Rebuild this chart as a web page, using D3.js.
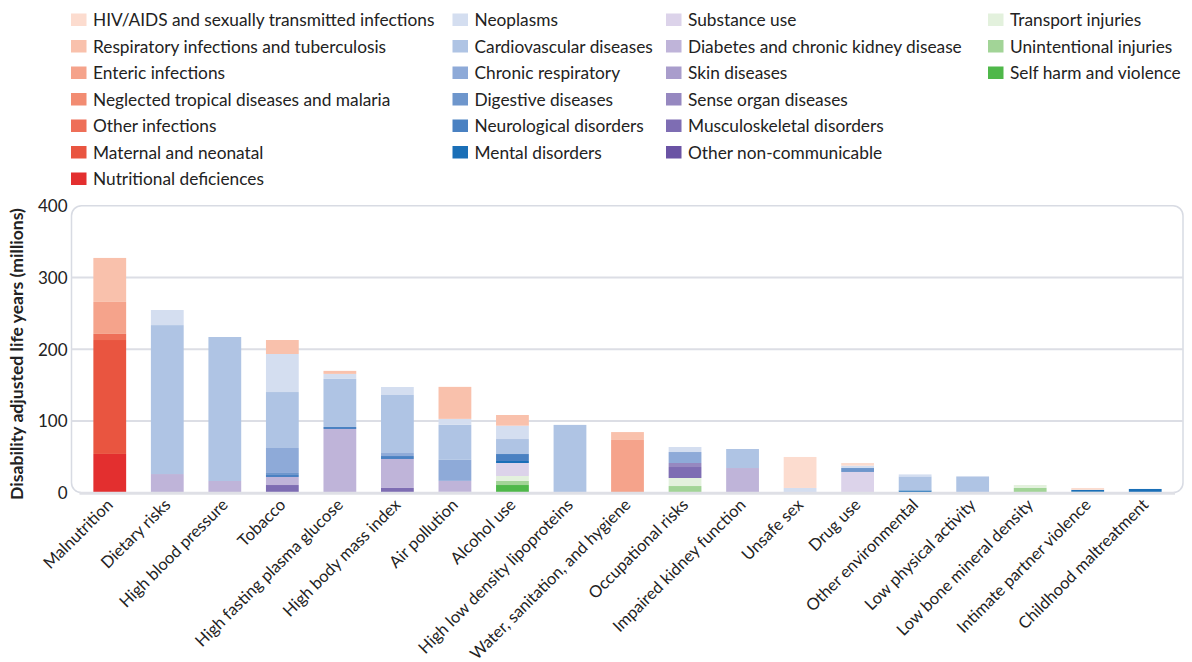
<!DOCTYPE html>
<html>
<head>
<meta charset="utf-8">
<script src="https://cdn.jsdelivr.net/npm/d3@7"></script>
<style>
  html, body { margin: 0; padding: 0; background: #fff; }
  svg text { font-family: Lato, "Open Sans", sans-serif; fill: #222; }
</style>
</head>
<body>
<svg id="chart" width="1192" height="662"></svg>
<script>
// ---------- DATA ----------
const categories = ["Malnutrition", "Dietary risks", "High blood pressure", "Tobacco",
  "High fasting plasma glucose", "High body mass index", "Air pollution", "Alcohol use",
  "High low density lipoproteins", "Water, sanitation, and hygiene", "Occupational risks",
  "Impaired kidney function", "Unsafe sex", "Drug use", "Other environmental",
  "Low physical activity", "Low bone mineral density", "Intimate partner violence",
  "Childhood maltreatment"];

const yTicks = [0, 100, 200, 300, 400];

// legend order (column-major); stacking is the reverse of this order
const seriesNames = [
  "HIV/AIDS and sexually transmitted infections", "Respiratory infections and tuberculosis",
  "Enteric infections", "Neglected tropical diseases and malaria", "Other infections",
  "Maternal and neonatal", "Nutritional deficiences",
  "Neoplasms", "Cardiovascular diseases", "Chronic respiratory", "Digestive diseases",
  "Neurological disorders", "Mental disorders",
  "Substance use", "Diabetes and chronic kidney disease", "Skin diseases",
  "Sense organ diseases", "Musculoskeletal disorders", "Other non-communicable",
  "Transport injuries", "Unintentional injuries", "Self harm and violence"];

const seriesColors = [
  "#fcdccf", "#f9c1ac", "#f5a38b", "#f28c72", "#ee6f58", "#e95540", "#e32f2f",
  "#d4def0", "#afc4e4", "#8eaad8", "#6e96cc", "#4a81c2", "#1a6fb7",
  "#dcd3ea", "#bfb4d9", "#a99dcc", "#9688c0", "#7e6db3", "#6a53a4",
  "#e3f1dd", "#a2d497", "#4fb84a"];

// values in millions of DALYs, one array per cause, in category order
const hivAids        = [0, 0, 0, 0, 0, 0, 0, 0, 0, 0, 0, 0, 43.2, 3.7, 0, 0, 0, 2.6, 0];
const respInfections = [61.3, 0, 0, 19.5, 4.2, 0, 44.6, 14.9, 0, 11, 0, 0, 0, 0, 0, 0, 0, 0, 0];
const enteric        = [44.6, 0, 0, 0, 0, 0, 0, 0, 0, 73.5, 0, 0, 0, 0, 0, 0, 0, 0, 0];
const tropical       = [0, 0, 0, 0, 0, 0, 0, 0, 0, 0, 0, 0, 0, 0, 0, 0, 0, 0, 0];
const otherInfect    = [8.5, 0, 0, 0, 0, 0, 0, 0, 0, 0, 0, 0, 0, 0, 0, 0, 0, 0, 0];
const maternal       = [158.8, 0, 0, 0, 0, 0, 0, 0, 0, 0, 0, 0, 0, 0, 0, 0, 0, 0, 0];
const nutritional    = [54, 0, 0, 0, 0, 0, 0, 0, 0, 0, 0, 0, 0, 0, 0, 0, 0, 0, 0];
const neoplasms      = [0, 21, 0, 53, 7, 11.1, 8.3, 18.6, 0, 0, 7, 0, 6.6, 3.3, 2.8, 1.4, 0, 0, 0];
const cardio         = [0, 207.6, 200.7, 78, 67, 80.9, 48.8, 20.9, 94.5, 0, 0, 26.5, 0, 0, 19.5, 20.9, 0, 0, 0];
const chronicResp    = [0, 0, 0, 34.8, 0, 4.2, 29.3, 0, 0, 0, 15.3, 0, 0, 0, 0, 0, 0, 0, 0];
const digestive      = [0, 0, 0, 2.8, 0, 0, 0, 0, 0, 0, 0, 0, 0, 5.5, 0, 0, 0, 0, 0];
const neurological   = [0, 0, 0, 2.8, 2.8, 4.1, 0, 9.7, 0, 0, 0, 0, 0, 0, 0, 0, 0, 0, 0];
const mental         = [0, 0, 0, 0, 0, 0, 0, 2.8, 0, 0, 0, 0, 0, 0, 3.2, 0, 0, 2.8, 5.2];
const substance      = [0, 0, 0, 0, 0, 0, 0, 18.1, 0, 0, 0, 0, 0, 27.9, 0, 0, 0, 0, 0];
const diabetesCkd    = [0, 26, 16.3, 11.2, 88.8, 40.4, 15.3, 0, 0, 0, 0, 34.4, 0, 0, 0, 1, 0, 0, 0];
const skin           = [0, 0, 0, 0, 0, 0, 0, 0, 0, 0, 0, 0, 0, 0, 0, 0, 0, 0, 0];
const senseOrgan     = [0, 0, 0, 0, 0, 0, 1.2, 0, 0, 0, 5.6, 0, 0, 0, 0, 0, 0, 0, 0];
const musculo        = [0, 0, 0, 10.7, 0, 6.6, 0, 0, 0, 0, 15.3, 0, 0, 0, 0, 0, 0, 0, 0];
const otherNcd       = [0, 0, 0, 0, 0, 0, 0, 0, 0, 0, 0, 0, 0, 0, 0, 0, 0, 0, 0];
const transport      = [0, 0, 0, 0, 0, 0, 0, 7, 0, 0, 11.2, 0, 0, 0, 0, 0, 4.1, 0, 0];
const unintentional  = [0, 0, 0, 0, 0, 0, 0, 5.6, 0, 0, 9.3, 0, 0, 0, 0, 0, 6.6, 0, 0];
const selfHarm       = [0, 0, 0, 0, 0, 0, 0, 10.7, 0, 0, 0, 0, 0, 1, 0, 0, 0, 1.2, 0];

const seriesValues = [hivAids, respInfections, enteric, tropical, otherInfect, maternal, nutritional,
  neoplasms, cardio, chronicResp, digestive, neurological, mental,
  substance, diabetesCkd, skin, senseOrgan, musculo, otherNcd,
  transport, unintentional, selfHarm];

// ---------- CHART ----------
const svg = d3.select("#chart");
const plot = { left: 71.5, right: 1183, top: 205.7, bottom: 492.7 };

const x = d3.scaleBand().domain(categories).range([81, 1174])
  .paddingInner(0.43).paddingOuter(0.215);
const y = d3.scaleLinear().domain([0, 400]).range([plot.bottom, plot.top]);

// frame
svg.append("rect")
  .attr("x", plot.left).attr("y", plot.top)
  .attr("width", plot.right - plot.left).attr("height", plot.bottom - plot.top)
  .attr("rx", 10).attr("ry", 10)
  .attr("fill", "none").attr("stroke", "#d8dbe3").attr("stroke-width", 1.5);

// gridlines
svg.append("g").selectAll("line").data(yTicks.filter(t => t > 0 && t < 400)).join("line")
  .attr("x1", plot.left).attr("x2", plot.right)
  .attr("y1", d => y(d)).attr("y2", d => y(d))
  .attr("stroke", "#dcdee5").attr("stroke-width", 2);

// stacked data
const rows = categories.map((c, i) => {
  const r = { category: c };
  seriesNames.forEach((s, j) => { r[s] = seriesValues[j][i]; });
  return r;
});
const stackKeys = seriesNames.slice().reverse();
const colorOf = d3.scaleOrdinal().domain(seriesNames).range(seriesColors);
const stacked = d3.stack().keys(stackKeys)(rows);

svg.append("g").selectAll("g").data(stacked).join("g")
  .attr("fill", d => colorOf(d.key))
  .selectAll("rect").data(d => d.filter(p => p[1] - p[0] > 0)).join("rect")
  .attr("x", d => x(d.data.category))
  .attr("width", x.bandwidth())
  .attr("y", d => y(d[1]))
  .attr("height", d => y(d[0]) - y(d[1]));

// baseline
svg.append("line")
  .attr("x1", plot.left + 8).attr("x2", plot.right - 8)
  .attr("y1", y(0) + 0.5).attr("y2", y(0) + 0.5)
  .attr("stroke", "#dfe0e6").attr("stroke-width", 3);

// y axis
const yAxis = d3.axisLeft(y).tickValues(yTicks).tickSize(0).tickPadding(0);
const yg = svg.append("g").attr("transform", `translate(${plot.left - 4},0)`).call(yAxis);
yg.select(".domain").remove();
yg.selectAll("text").attr("font-size", 17).attr("fill", "#222")
  .attr("font-family", "Lato, sans-serif").attr("dy", "0.35em");

// x axis labels
const xAxis = d3.axisBottom(x).tickSize(0).tickPadding(0);
const xg = svg.append("g").attr("transform", `translate(-4,${plot.bottom + 5})`).call(xAxis);
xg.select(".domain").remove();
xg.selectAll("text")
  .attr("font-size", 16.5).attr("fill", "#222").attr("font-family", "Lato, sans-serif")
  .attr("text-anchor", "end")
  .attr("dy", "0.7em")
  .attr("transform", "rotate(-45)");

// y title
svg.append("text")
  .attr("transform", `translate(23,354) rotate(-90)`)
  .attr("text-anchor", "middle")
  .attr("font-size", 17.6).attr("font-weight", "bold")
  .text("Disability adjusted life years (millions)");

// legend
const colX = [71, 452.5, 666, 988];
const colStart = [0, 7, 13, 19];
const legend = svg.append("g");
seriesNames.forEach((s, j) => {
  let col = 0;
  for (let k = 0; k < colStart.length; k++) if (j >= colStart[k]) col = k;
  const row = j - colStart[col];
  const gy = 20 + row * 26.5;
  const g = legend.append("g").attr("transform", `translate(${colX[col]},${gy})`);
  g.append("rect").attr("x", 0).attr("y", -6.5).attr("width", 15.5).attr("height", 12.5)
    .attr("fill", seriesColors[j]);
  g.append("text").attr("x", 22).attr("y", 0).attr("dy", "0.36em")
    .attr("font-size", 17.3).text(s);
});
</script>
</body>
</html>
